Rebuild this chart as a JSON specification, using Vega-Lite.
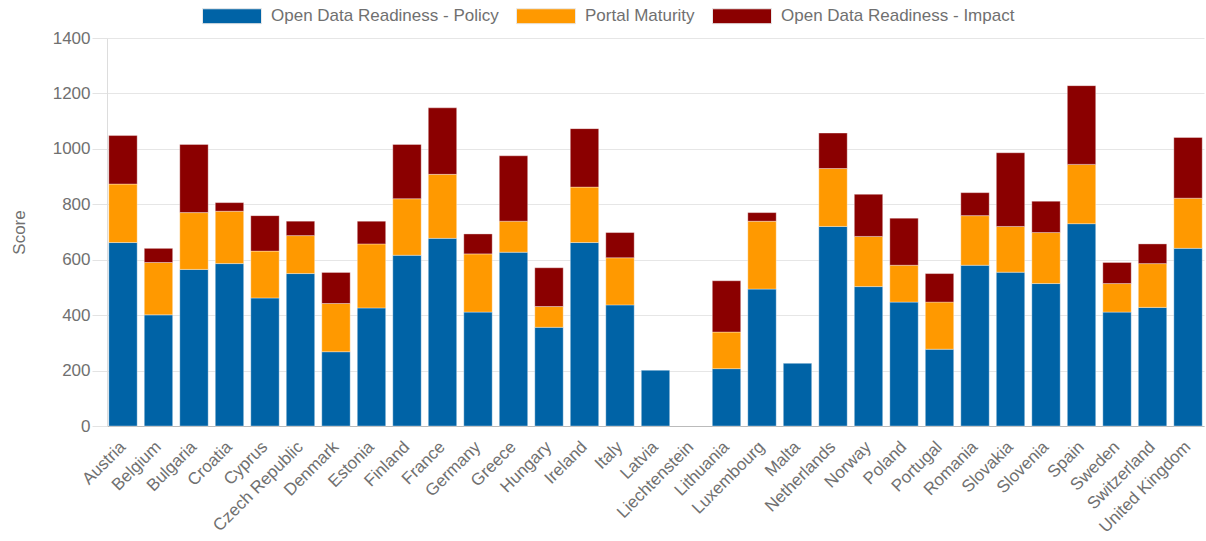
{
  "$schema": "https://vega.github.io/schema/vega-lite/v6.json",
  "autosize": "none",
  "padding": {"left": 107, "top": 38, "right": 2, "bottom": 115},
  "width": 1097,
  "height": 388,
  "background": "white",
  "datasets": {
    "scores": [
      {"country": "Austria", "Policy": 662, "Portal": 211, "Impact": 175},
      {"country": "Belgium", "Policy": 401, "Portal": 189, "Impact": 51},
      {"country": "Bulgaria", "Policy": 565, "Portal": 205, "Impact": 246},
      {"country": "Croatia", "Policy": 586, "Portal": 189, "Impact": 31},
      {"country": "Cyprus", "Policy": 462, "Portal": 169, "Impact": 128},
      {"country": "Czech Republic", "Policy": 550, "Portal": 137, "Impact": 52},
      {"country": "Denmark", "Policy": 268, "Portal": 174, "Impact": 112},
      {"country": "Estonia", "Policy": 426, "Portal": 231, "Impact": 82},
      {"country": "Finland", "Policy": 616, "Portal": 204, "Impact": 196},
      {"country": "France", "Policy": 677, "Portal": 231, "Impact": 240},
      {"country": "Germany", "Policy": 411, "Portal": 210, "Impact": 72},
      {"country": "Greece", "Policy": 627, "Portal": 112, "Impact": 236},
      {"country": "Hungary", "Policy": 356, "Portal": 75, "Impact": 140},
      {"country": "Ireland", "Policy": 662, "Portal": 200, "Impact": 211},
      {"country": "Italy", "Policy": 437, "Portal": 170, "Impact": 91},
      {"country": "Latvia", "Policy": 201, "Portal": 0, "Impact": 0},
      {"country": "Liechtenstein", "Policy": 0, "Portal": 0, "Impact": 0},
      {"country": "Lithuania", "Policy": 207, "Portal": 132, "Impact": 185},
      {"country": "Luxembourg", "Policy": 494, "Portal": 245, "Impact": 31},
      {"country": "Malta", "Policy": 226, "Portal": 0, "Impact": 0},
      {"country": "Netherlands", "Policy": 720, "Portal": 209, "Impact": 128},
      {"country": "Norway", "Policy": 503, "Portal": 181, "Impact": 152},
      {"country": "Poland", "Policy": 447, "Portal": 133, "Impact": 170},
      {"country": "Portugal", "Policy": 277, "Portal": 170, "Impact": 103},
      {"country": "Romania", "Policy": 580, "Portal": 179, "Impact": 83},
      {"country": "Slovakia", "Policy": 555, "Portal": 165, "Impact": 266},
      {"country": "Slovenia", "Policy": 514, "Portal": 184, "Impact": 113},
      {"country": "Spain", "Policy": 730, "Portal": 214, "Impact": 284},
      {"country": "Sweden", "Policy": 411, "Portal": 103, "Impact": 76},
      {"country": "Switzerland", "Policy": 428, "Portal": 158, "Impact": 71},
      {"country": "United Kingdom", "Policy": 641, "Portal": 181, "Impact": 219}
    ]
  },
  "data": {"name": "scores"},
  "transform": [
    {"fold": ["Policy", "Portal", "Impact"], "as": ["key", "score"]},
    {"filter": "datum.score > 0"},
    {"lookup": "key", "from": {"data": {"values": [
      {"key": "Policy", "series": "Open Data Readiness - Policy", "rank": 1},
      {"key": "Portal", "series": "Portal Maturity", "rank": 2},
      {"key": "Impact", "series": "Open Data Readiness - Impact", "rank": 3}
    ]}, "key": "key", "fields": ["series", "rank"]}}
  ],
  "mark": {"type": "bar", "stroke": "#ffffff", "strokeOpacity": 0.35, "strokeWidth": 1},
  "encoding": {
    "x": {
      "field": "country", "type": "nominal", "sort": null,
      "scale": {
        "domain": ["Austria", "Belgium", "Bulgaria", "Croatia", "Cyprus", "Czech Republic", "Denmark", "Estonia", "Finland", "France", "Germany", "Greece", "Hungary", "Ireland", "Italy", "Latvia", "Liechtenstein", "Lithuania", "Luxembourg", "Malta", "Netherlands", "Norway", "Poland", "Portugal", "Romania", "Slovakia", "Slovenia", "Spain", "Sweden", "Switzerland", "United Kingdom"],
        "paddingInner": 0.2, "paddingOuter": 0.05
      },
      "axis": {
        "title": null, "labelAngle": -45, "labelAlign": "right", "labelBaseline": "middle",
        "labelFont": "Liberation Sans", "labelFontSize": 17, "labelColor": "#707070",
        "labelPadding": 18, "ticks": false, "domainColor": "#bbbbbb", "domainWidth": 1,
        "labelOverlap": false
      }
    },
    "y": {
      "field": "score", "type": "quantitative", "stack": "zero",
      "scale": {"domain": [0, 1400], "nice": false},
      "axis": {
        "title": "Score", "values": [0, 200, 400, 600, 800, 1000, 1200, 1400], "format": "d",
        "titleFont": "Liberation Sans", "titleFontSize": 17, "titleFontWeight": "normal",
        "titleColor": "#707070", "titleAngle": -90, "titleX": -88, "titleY": 194,
        "titleAlign": "center", "titleBaseline": "middle",
        "labelFont": "Liberation Sans", "labelFontSize": 17, "labelColor": "#707070",
        "labelPadding": 2, "tickSize": 15, "tickColor": "#e3e3e3",
        "gridColor": "#e6e6e6", "domainColor": "#dddddd"
      }
    },
    "color": {
      "field": "series", "type": "nominal",
      "scale": {
        "domain": ["Open Data Readiness - Policy", "Portal Maturity", "Open Data Readiness - Impact"],
        "range": ["#0063a6", "#ff9900", "#8b0000"]
      },
      "legend": {
        "title": null, "orient": "none", "direction": "horizontal",
        "legendX": 95, "legendY": -52,
        "symbolType": "M-1,-0.254H1V0.254H-1Z", "symbolSize": 3481,
        "symbolStrokeColor": "#e8e8e8", "symbolStrokeWidth": 1,
        "labelFont": "Liberation Sans", "labelFontSize": 17, "labelColor": "#707070",
        "labelOffset": 9, "columnPadding": 15, "labelLimit": 400
      }
    },
    "order": {"field": "rank", "type": "quantitative"}
  },
  "config": {"view": {"stroke": null}}
}
